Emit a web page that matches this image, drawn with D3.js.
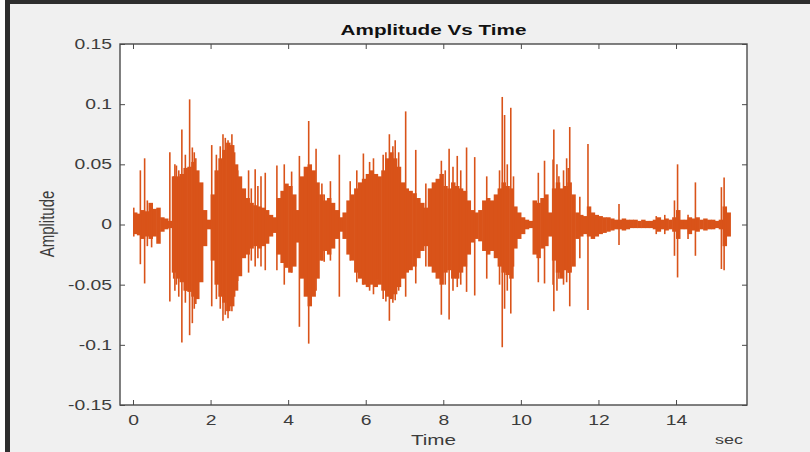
<!DOCTYPE html>
<html><head><meta charset="utf-8">
<script src="https://cdn.jsdelivr.net/npm/d3@7/dist/d3.min.js"></script>
<style>
html,body{margin:0;padding:0;background:#fff;}
svg{display:block;}
text{font-family:"Liberation Sans",Arial,Helvetica,sans-serif;}
</style></head>
<body><svg id="c" width="810" height="452"></svg>
<script>
// ---- data ----
const title = "Amplitude Vs Time";
const xLabel = "Time";
const xUnit = "sec";
const yLabel = "Amplitude";
const xTicks = [0, 2, 4, 6, 8, 10, 12, 14];
const xTickLabels = ["0", "2", "4", "6", "8", "10", "12", "14"];
const yTicks = [-0.15, -0.1, -0.05, 0, 0.05, 0.1, 0.15];
const yTickLabels = ["-0.15", "-0.1", "-0.05", "0", "0.05", "0.1", "0.15"];
const xDomain = [-0.335, 15.83];
const yDomain = [-0.15, 0.15];

// envelope of the signal, one value per 0.1 s bin starting at 0 s
const binStart = 0;
const binStep = 0.1;
const envUpper = [
 .010,.009,.012,.011,.018,.013,.014,.006,.005,.003,
 .040,.040,.042,.047,.048,.052,.045,.035,.012,.004,
 .025,.045,.055,.062,.068,.066,.050,.040,.030,.022,
 .018,.016,.015,.014,.012,.008,.006,.022,.028,.034,
 .032,.025,.012,.040,.048,.050,.045,.035,.025,.020,
 .022,.018,.012,.006,.010,.020,.025,.030,.035,.038,
 .042,.045,.042,.040,.045,.055,.060,.055,.048,.035,
 .030,.028,.026,.022,.018,.014,.030,.035,.038,.042,
 .032,.030,.035,.032,.030,.028,.020,.012,.010,.012,
 .020,.022,.020,.025,.030,.035,.032,.030,.015,.010,
 .006,.004,.003,.020,.018,.022,.025,.010,.030,.035,
 .030,.032,.035,.025,.010,.008,.007,.015,.010,.008,
 .007,.006,.006,.005,.004,.004,.005,.004,.004,.004,
 .003,.004,.003,.003,.004,.006,.004,.005,.004,.006,
 .012,.004,.004,.006,.005,.006,.004,.005,.004,.004,
 .003,.004,.015,.010
];
const envLower = [
 -.008,-.009,-.012,-.010,-.012,-.010,-.016,-.006,-.004,-.003,
 -.040,-.045,-.048,-.055,-.056,-.060,-.062,-.048,-.018,-.004,
 -.030,-.050,-.060,-.065,-.072,-.068,-.055,-.043,-.028,-.025,
 -.020,-.018,-.020,-.018,-.016,-.010,-.007,-.025,-.032,-.036,
 -.040,-.035,-.015,-.045,-.060,-.068,-.060,-.045,-.030,-.022,
 -.025,-.020,-.012,-.006,-.012,-.025,-.030,-.040,-.045,-.050,
 -.052,-.050,-.052,-.050,-.055,-.060,-.062,-.058,-.052,-.045,
 -.040,-.038,-.035,-.028,-.022,-.018,-.035,-.040,-.045,-.050,
 -.040,-.038,-.045,-.045,-.040,-.035,-.025,-.015,-.012,-.014,
 -.022,-.025,-.022,-.028,-.035,-.040,-.042,-.045,-.020,-.012,
 -.008,-.004,-.003,-.025,-.028,-.020,-.018,-.010,-.030,-.040,
 -.045,-.038,-.040,-.035,-.012,-.010,-.008,-.010,-.012,-.010,
 -.008,-.007,-.006,-.005,-.004,-.004,-.005,-.004,-.003,-.003,
 -.003,-.003,-.003,-.003,-.004,-.006,-.004,-.005,-.004,-.006,
 -.012,-.004,-.004,-.008,-.005,-.006,-.004,-.005,-.004,-.004,
 -.003,-.004,-.018,-.010
];

// isolated peaks: time (s), positive peak, negative peak
const spikeTime = [0.02,0.19,0.30,0.37,0.48,0.95,1.05,1.08,1.12,1.18,1.26,1.35,1.38,1.46,1.53,1.58,1.62,
 2.03,2.15,2.25,2.32,2.38,2.45,2.55,2.62,2.70,
 2.98,3.05,3.15,3.22,3.30,3.41,3.71,3.90,4.09,4.29,4.53,4.72,4.87,4.93,
 5.09,5.32,5.60,5.77,5.94,6.10,6.20,6.30,6.45,6.52,6.61,6.70,6.76,6.85,7.03,7.29,7.55,
 7.95,8.05,8.15,8.25,8.36,8.45,8.60,8.81,9.12,9.45,9.52,9.58,9.65,9.74,9.81,
 10.45,10.61,10.83,10.85,10.93,10.98,11.10,11.18,11.22,11.26,11.52,11.73,12.53,
 13.49,13.71,13.96,14.04,14.31,14.50,15.17,15.24];
const spikeUp = [.014,.045,.055,.020,.016,.060,.040,.050,.049,.045,.079,.058,.047,.104,.064,.060,.055,
 .066,.058,.065,.075,.072,.070,.075,.060,.045,
 .045,.030,.046,.032,.040,.043,.049,.050,.044,.057,.086,.063,.034,.025,
 .036,.058,.036,.045,.059,.052,.055,.042,.058,.060,.075,.065,.070,.060,.094,.062,.034,
 .053,.045,.063,.048,.057,.045,.064,.056,.040,.045,.106,.091,.050,.097,.040,
 .043,.053,.054,.079,.050,.040,.045,.055,.047,.081,.023,.067,.017,
 .007,.008,.020,.050,.008,.035,.031,.039];
const spikeDown = [-.010,-.033,-.049,-.018,-.019,-.064,-.045,-.055,-.050,-.060,-.098,-.065,-.055,-.092,-.082,-.070,-.066,
 -.068,-.062,-.070,-.080,-.075,-.078,-.072,-.060,-.047,
 -.040,-.030,-.035,-.028,-.035,-.038,-.038,-.050,-.040,-.085,-.099,-.055,-.030,-.031,
 -.030,-.060,-.030,-.048,-.050,-.055,-.058,-.045,-.062,-.064,-.080,-.065,-.063,-.055,-.060,-.049,-.035,
 -.075,-.050,-.079,-.055,-.052,-.050,-.056,-.059,-.045,-.050,-.102,-.070,-.055,-.074,-.035,
 -.048,-.049,-.050,-.072,-.055,-.045,-.050,-.048,-.040,-.068,-.028,-.071,-.017,
 -.008,-.008,-.026,-.044,-.012,-.026,-.037,-.038];

// ---- drawing ----
const svg = d3.select("#c");
const W = 810, H = 452;
const SX = 1.38; // horizontal stretch of the reference's text
const col = "#D95319";
const axCol = "#4a4a4a";
const txtCol = "#3c3c3c";

// figure background and window frame
svg.append("rect").attr("x",0).attr("y",0).attr("width",W).attr("height",H).attr("fill","#ffffff");
svg.append("rect").attr("x",5).attr("y",0).attr("width",W-5).attr("height",H).attr("fill","#f0f0f0");
svg.append("rect").attr("x",5).attr("y",0).attr("width",W-5).attr("height",4).attr("fill","#2e2e2e");
svg.append("rect").attr("x",5).attr("y",0).attr("width",5).attr("height",H).attr("fill","#2e2e2e");

const L = 120, R = 747, T = 44, B = 405;
const x = d3.scaleLinear().domain(xDomain).range([L, R]);
const y = d3.scaleLinear().domain(yDomain).range([B, T]);

svg.append("rect").attr("x",L).attr("y",T).attr("width",R-L).attr("height",B-T).attr("fill","#ffffff");

const plot = svg.append("g");
// envelope bins
const bins = envUpper.map((u,i)=>({t: binStart + i*binStep, u, l: envLower[i]}));
plot.selectAll("rect.bin").data(bins).enter().append("rect")
  .attr("class","bin")
  .attr("x", d=>x(d.t))
  .attr("width", d=>x(d.t+binStep)-x(d.t)+0.6)
  .attr("y", d=>y(d.u))
  .attr("height", d=>y(d.l)-y(d.u))
  .attr("fill", col);
// peaks
const spikes = spikeTime.map((t,i)=>({t, u: spikeUp[i], l: spikeDown[i]}));
plot.selectAll("line.spk").data(spikes).enter().append("line")
  .attr("x1", d=>x(d.t)).attr("x2", d=>x(d.t))
  .attr("y1", d=>y(d.u)).attr("y2", d=>y(d.l))
  .attr("stroke", col).attr("stroke-width", 1.6);

// axes
function styleAxis(g){
  g.select(".domain").remove();
  g.selectAll("line").attr("stroke", axCol).attr("stroke-width",1);
  g.selectAll("text").attr("fill", txtCol).style("font-size","14px")
   .style("font-family",'"Liberation Sans",Arial,sans-serif');
}
const gx = svg.append("g").attr("transform",`translate(0,${B})`)
  .call(d3.axisBottom(x).tickValues(xTicks).tickFormat((d,i)=>xTickLabels[i]).tickSize(-5).tickSizeOuter(0).tickPadding(10));
styleAxis(gx);
gx.selectAll("text").attr("dy","0.71em").attr("transform",`scale(${SX},1)`);

const gxt = svg.append("g").attr("transform",`translate(0,${T})`)
  .call(d3.axisTop(x).tickValues(xTicks).tickFormat("").tickSize(-5).tickSizeOuter(0));
styleAxis(gxt);

const gy = svg.append("g").attr("transform",`translate(${L},0)`)
  .call(d3.axisLeft(y).tickValues(yTicks).tickFormat((d,i)=>yTickLabels[i]).tickSize(-5).tickSizeOuter(0).tickPadding(8));
styleAxis(gy);
gy.selectAll("text").attr("x", -8/SX).attr("transform",`scale(${SX},1)`);

const gyr = svg.append("g").attr("transform",`translate(${R},0)`)
  .call(d3.axisRight(y).tickValues(yTicks).tickFormat("").tickSize(-5).tickSizeOuter(0));
styleAxis(gyr);

// box
svg.append("rect").attr("x",L).attr("y",T).attr("width",R-L).attr("height",B-T)
  .attr("fill","none").attr("stroke",axCol).attr("stroke-width",1.4);

// texts
function stretchedText(tx, ty, str, size, weight, anchor){
  return svg.append("text")
    .attr("transform",`translate(${tx},${ty}) scale(${SX},1)`)
    .attr("text-anchor", anchor||"middle")
    .attr("dominant-baseline","central")
    .style("font-size", size+"px").style("font-weight", weight||"normal")
    .attr("fill", txtCol).text(str);
}
stretchedText((L+R)/2, 30, title, 15, "bold").attr("fill","#111");
stretchedText((L+R)/2, 440, xLabel, 15);
stretchedText(729, 439, xUnit, 13);
svg.append("text").attr("transform",`translate(47,224) scale(${SX},1) rotate(-90)`)
  .attr("text-anchor","middle").attr("dominant-baseline","central")
  .style("font-size","15px").attr("fill",txtCol).text(yLabel);
</script></body></html>
